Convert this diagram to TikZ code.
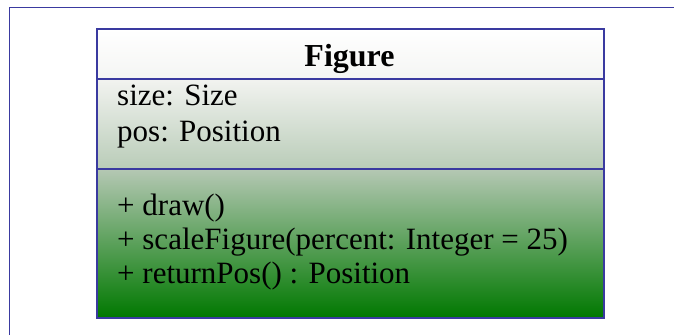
\documentclass[tikz,border=0pt]{standalone}
\usepackage{fontspec}
\setmainfont{Liberation Serif}
\definecolor{umlblue}{RGB}{58,58,160}
\definecolor{headbot}{RGB}{244,245,243}
\definecolor{attrtop}{RGB}{242,243,240}
\definecolor{attrbot}{RGB}{185,204,184}
\definecolor{opstop}{RGB}{181,200,180}
\definecolor{opsbot}{RGB}{0,120,0}
\begin{document}
\begin{tikzpicture}[x=1pt,y=-1pt,
  comp/.style={draw=umlblue,line width=1.7pt,rectangle,anchor=north west,minimum width=507pt,inner sep=0pt},
  member/.style={anchor=base west,inner sep=0pt,font=\fontsize{31}{31}\selectfont},
  classname/.style={anchor=base,inner sep=0pt,font=\fontsize{32}{32}\selectfont\bfseries}]
\useasboundingbox (0,0) rectangle (674,335);
\draw[umlblue,line width=1.7pt] (9.5,335) -- (9.5,7.5) -- (674,7.5);
\node[comp,top color=white,bottom color=headbot,minimum height=50pt] (head) at (96,28) {};
\node[comp,top color=attrtop,bottom color=attrbot,minimum height=90pt] (attrs) at (96,78) {};
\node[comp,top color=opstop,bottom color=opsbot,minimum height=149pt] (ops) at (96,168) {};
\node[classname] (name) at (349.5,66) {Figure};
\node[member] (size) at (117,105) {size: Size};
\node[member] (pos) at (117,141) {pos: Position};
\node[member] (draw) at (117,215) {+ draw()};
\node[member] (scale) at (117,249) {+ scaleFigure(percent: Integer = 25)};
\node[member] (ret) at (117,283) {+ returnPos() : Position};
\end{tikzpicture}
\end{document}
